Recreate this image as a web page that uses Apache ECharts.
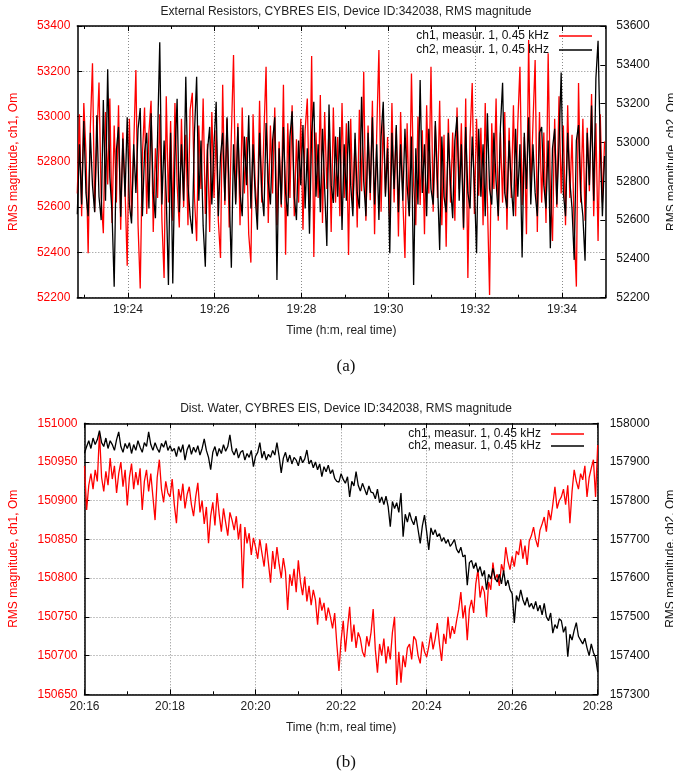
<!DOCTYPE html>
<html>
<head>
<meta charset="utf-8">
<title>CYBRES EIS, RMS magnitude</title>
<script src="https://cdn.jsdelivr.net/npm/echarts@6/dist/echarts.min.js"></script>
<style>
  html, body { margin: 0; padding: 0; background: #fff; }
  #chart { width: 673px; height: 774px; }
</style>
</head>
<body>
<div id="chart"></div>
<script>
// ---- panel (a): External Resistors, one sample every 3 s ----
const startA = '19:22:50';
const endA = '19:35:00';
const stepA = 3;
const xTickLabelsA = ['19:24', '19:26', '19:28', '19:30', '19:32', '19:34'];
const ch1A = [
  52660, 53010, 52560, 53060, 52840, 52396, 52950, 53235, 52580, 52900,
  53150, 52640, 52485, 53020, 52700, 53080, 52530, 52960, 52620, 53050,
  52500, 52930, 52680, 52341, 52990, 52560, 52870, 53206, 52520, 52241,
  52830, 53040, 52570, 52930, 53070, 52490, 52860, 52640, 53010, 52540,
  52287, 53090, 52620, 52980, 52540, 53060, 52700, 52510, 52990, 52600,
  52920, 52520, 53030, 53105, 52640, 52450, 52960, 52680, 53080, 52570,
  52880, 52490, 53020, 52640, 52940, 52540, 52375, 53140, 52610, 52990,
  52510, 52920, 53272, 52620, 52970, 52520, 53040, 52660, 52910, 52480,
  52355, 53010, 52700, 52560, 53070, 52620, 52920, 53220, 52530, 52960,
  52660, 53040, 52520, 52890, 52600, 53140, 52390, 52970, 52640, 53050,
  52560, 52900, 52620, 52990, 52500, 52940, 53080, 52580, 53268, 52380,
  52930, 52640, 53095, 52530, 53020, 52680, 52950, 52490, 53040, 52620,
  52910, 52560, 53060, 52640, 52970, 52389, 52990, 52600, 52900, 52510,
  53030, 52670, 53198, 52540, 52960, 52630, 53070, 52480, 52930, 53294,
  52580, 52990, 52660, 52910, 52520, 53060, 52620, 52950, 52470, 53020,
  52640, 52375, 52970, 52560, 53190, 52700, 52520, 53000, 52610, 52940,
  52480, 53050, 52660, 53220, 52580, 52960, 52640, 53070, 52520, 52920,
  52425, 52990, 52620, 52930, 52540, 53040, 52680, 52970, 52500, 53080,
  52287, 52910, 53148, 52570, 52990, 52650, 52950, 52520, 53060, 52620,
  52212, 52970, 52680, 53080, 52540, 52930, 52620, 53020, 52500, 52950,
  52640, 53050, 52560, 52970, 53220, 52610, 52910, 52480, 53338, 52670,
  52970, 53250, 52490, 53020, 52620, 52930, 52530, 53280, 52680, 52450,
  52990, 52600, 53090, 52660, 52960, 52520, 53050, 52640, 52920, 52500,
  52249, 53148, 52620, 52990, 52540, 52950, 52670, 53100, 52560, 52970,
  52450, 53010, 52620, 52890
];
const ch2A = [
  52630, 52990, 52680, 53110, 52740, 52620, 53050, 52780, 52640, 53140,
  52720, 52600, 53219, 52700, 53377, 52820, 52640, 52257, 52960, 53080,
  52617, 53020, 52720, 53130, 52680, 52583, 52990, 52740, 53070, 53177,
  52620, 52950, 53050, 52660, 53150, 52740, 52610, 53030, 53516, 52680,
  53010, 52720, 52265, 53050, 52273, 52930, 53225, 52640, 52990, 52700,
  53339, 52780, 52620, 52530, 53050, 53339, 52700, 53010, 52570, 52360,
  52960, 53080, 52680, 52990, 53210, 52620, 52930, 53050, 52700, 53130,
  52740, 52355, 52990, 52680, 53080, 52740, 52620, 53030, 52780, 53140,
  52660, 52990, 52720, 52550, 53050, 52750, 52620, 53100, 52800, 52680,
  53010, 53130, 52291, 52970, 52680, 53080, 52740, 52620, 53030, 53160,
  52720, 52600, 53010, 52780, 53090, 52660, 52970, 52530, 53050, 53210,
  52720, 52990, 52640, 53070, 52760, 52466, 53195, 52780, 52688, 53030,
  52720, 53080, 52549, 52990, 52700, 53110, 52780, 52620, 53050, 52740,
  52660, 53236, 52800, 52620, 53050, 52740, 53130, 52680, 52990, 52600,
  53030, 53210, 52720, 52970, 52429, 53050, 52760, 53090, 52640, 52990,
  52700, 53070, 52780, 52620, 53030, 52265, 52970, 52680, 53322, 52740,
  52990, 52620, 53070, 52760, 52680, 53110, 52800, 52446, 53030, 52720,
  52640, 53050, 52780, 52610, 53010, 53132, 52700, 52990, 52560, 53080,
  52740, 52660, 53030, 52780, 52429, 53070, 52720, 52990, 52620, 53150,
  52760, 52680, 53050, 52800, 52620, 53080, 53308, 52740, 52660, 53010,
  52780, 52620, 53070, 52720, 52990, 52407, 53050, 52760, 53130, 52680,
  52990, 52740, 52620, 53050, 53080, 52780, 52660, 53010, 52455, 52970,
  53070, 52680, 52990, 53360, 52740, 52620, 53050, 52800, 52660, 52395,
  53010, 53090, 52740, 52620, 52390, 53050, 52780, 53190, 52700, 53331,
  53524, 52990, 52620, 52930
];

// ---- panel (b): Dist. Water, one sample every 3 s ----
const startB = '20:16:00';
const endB = '20:28:00';
const stepB = 3;
const xTickLabelsB = ['20:16', '20:18', '20:20', '20:22', '20:24', '20:26', '20:28'];
const ch1B = [
  150945, 150888, 150920, 150935, 150915, 150940, 150925, 150988, 150930, 150912,
  150938, 150920, 150955, 150928, 150945, 150910, 150935, 150950, 150918, 150940,
  150894, 150930, 150948, 150915, 150937, 150920, 150942, 150888, 150925, 150940,
  150912, 150935, 150905, 150875, 150930, 150953, 150915, 150898, 150925, 150910,
  150905, 150928, 150895, 150871, 150915, 150900, 150922, 150890, 150908, 150918,
  150895, 150880, 150905, 150923, 150885, 150900, 150870, 150892, 150845, 150880,
  150898, 150868, 150910, 150882, 150860, 150890, 150872, 150855, 150885, 150875,
  150862, 150880, 150850, 150870, 150787, 150866, 150845, 150858, 150830, 150852,
  150840, 150825, 150850, 150832, 150815, 150845, 150820, 150794, 150835, 150812,
  150840, 150818, 150800, 150826, 150808, 150759, 150805, 150790, 150812, 150782,
  150823, 150795, 150778, 150802, 150770, 150790, 150765, 150785, 150772, 150740,
  150775, 150758, 150768, 150745, 150762, 150750, 150735, 150755, 150715, 150680,
  150720, 150745, 150705, 150735, 150763, 150718, 150740, 150710, 150730, 150722,
  150705, 150698, 150725, 150712, 150730, 150760, 150708, 150678, 150715, 150700,
  150722, 150690, 150712, 150695, 150730, 150750, 150662, 150705, 150665, 150700,
  150685, 150710, 150715, 150695, 150725, 150720, 150700, 150690, 150718, 150705,
  150698, 150712, 150730, 150708, 150722, 150742, 150715, 150693, 150728, 150715,
  150750, 150722, 150738, 150728, 150745, 150760, 150782, 150748, 150765, 150720,
  150760, 150772, 150755, 150793, 150811, 150775, 150790, 150782, 150750, 150795,
  150785, 150820, 150798, 150805, 150790, 150818, 150808, 150840, 150822, 150811,
  150828, 150815, 150835, 150830, 150850, 150825, 150842, 150817, 150848, 150855,
  150866, 150850, 150840, 150862, 150870, 150879, 150860, 150888, 150875, 150895,
  150918, 150890, 150900, 150905, 150915, 150895, 150920, 150871, 150912, 150940,
  150925, 150915, 150935, 150927, 150945, 150905, 150930, 150942, 150953, 150905,
  150972
];
const ch2B = [
  157923, 157940, 157955, 157935, 157962, 157945, 157958, 157981, 157950, 157940,
  157962, 157935, 157955, 157945, 157930, 157958, 157978, 157940, 157925, 157948,
  157935, 157950, 157922, 157945, 157930, 157955, 157938, 157925, 157950, 157940,
  157978, 157945, 157930, 157950, 157935, 157925, 157948, 157938, 157955, 157930,
  157942, 157928, 157935, 157914, 157940, 157925, 157945, 157905, 157932, 157945,
  157920, 157938, 157925, 157942, 157918, 157935, 157960, 157930, 157912, 157880,
  157925, 157940, 157915, 157935, 157922, 157945, 157928, 157940, 157970, 157930,
  157918, 157935, 157910, 157925, 157930, 157905, 157922, 157912, 157930, 157888,
  157915, 157925, 157950, 157910, 157928, 157905, 157920, 157912, 157930, 157918,
  157950, 157915, 157872, 157910, 157925, 157900, 157918, 157895, 157912, 157905,
  157890, 157915, 157898, 157908, 157931, 157895, 157905, 157885, 157900, 157880,
  157895, 157862, 157888, 157875, 157892, 157870, 157880, 157858, 157850, 157848,
  157870, 157855, 157845, 157862, 157810, 157850, 157838, 157875, 157840, 157825,
  157845, 157830, 157815, 157838, 157822, 157820, 157805, 157830, 157795, 157810,
  157790, 157812, 157785, 157733, 157798, 157780, 157795, 157770, 157820, 157707,
  157765, 157745, 157770, 157750, 157738, 157760, 157725, 157690, 157735, 157763,
  157720, 157673, 157730, 157712, 157725, 157707, 157715, 157695, 157705, 157690,
  157700, 157682, 157690, 157700, 157675, 157665, 157680, 157655, 157660, 157582,
  157640, 157646, 157625, 157640, 157615, 157630, 157605, 157620, 157570, 157610,
  157598, 157625, 157600, 157590, 157610, 157585, 157620, 157580, 157595, 157570,
  157560, 157484, 157555, 157540, 157570, 157545, 157530, 157550, 157525, 157535,
  157520, 157540, 157515, 157530, 157505, 157535, 157500, 157490, 157510, 157458,
  157480, 157470, 157495, 157490, 157460, 157475, 157397, 157455, 157440, 157465,
  157485, 157450, 157440, 157430, 157445, 157420, 157400, 157430, 157408, 157395,
  157358
];

const nameCh1 = 'ch1, measur. 1, 0.45 kHz';
const nameCh2 = 'ch2, measur. 1, 0.45 kHz';

// clock text "hh:mm[:ss]" <-> seconds of day
function toSec(s) {
  const p = s.split(':').map(Number);
  return p[0] * 3600 + p[1] * 60 + (p[2] || 0);
}
function fmtClock(v) {
  const h = Math.floor(v / 3600);
  const m = Math.round((v - h * 3600) / 60);
  return h + ':' + (m < 10 ? '0' + m : m);
}
function pairs(start, step, values) {
  const t0 = toSec(start);
  return values.map((v, i) => [t0 + i * step, v]);
}
function minuteMarks(start, end) {
  const a = Math.ceil(toSec(start) / 60) * 60, b = toSec(end);
  const out = [];
  for (let t = a; t <= b; t += 60) out.push(t);
  return out;
}

const FONT = 'Liberation Sans, Arial, sans-serif';
const gridLine = { show: true, lineStyle: { color: '#8a8a8a', width: 1, type: [1, 2] } };

function timeAxes(gridIndex, start, end, labels) {
  const major = labels.map(toSec);
  const minor = minuteMarks(start, end);
  const base = { type: 'value', gridIndex, min: toSec(start), max: toSec(end) };
  return [
    Object.assign({}, base, {
      position: 'bottom',
      name: 'Time (h:m, real time)',
      nameLocation: 'middle',
      nameGap: 27,
      nameTextStyle: { fontFamily: FONT, fontSize: 12, color: '#222' },
      axisLine: { show: true, lineStyle: { color: '#000', width: 1.5 } },
      axisTick: { show: true, inside: true, length: 5, customValues: major, lineStyle: { color: '#000' } },
      axisLabel: { show: true, customValues: major, formatter: fmtClock, margin: 6,
                   fontFamily: FONT, fontSize: 12, color: '#222' },
      splitLine: gridLine
    }),
    Object.assign({}, base, {
      position: 'bottom',
      axisLine: { show: false },
      axisTick: { show: true, inside: true, length: 3, customValues: minor, lineStyle: { color: '#000' } },
      axisLabel: { show: false },
      splitLine: { show: false }
    }),
    Object.assign({}, base, {
      position: 'top',
      axisLine: { show: true, lineStyle: { color: '#000', width: 1.5 } },
      axisTick: { show: true, inside: true, length: 5, customValues: major, lineStyle: { color: '#000' } },
      axisLabel: { show: false },
      splitLine: { show: false }
    }),
    Object.assign({}, base, {
      position: 'top',
      axisLine: { show: false },
      axisTick: { show: true, inside: true, length: 3, customValues: minor, lineStyle: { color: '#000' } },
      axisLabel: { show: false },
      splitLine: { show: false }
    })
  ];
}

function valueAxis(gridIndex, pos, min, max, interval, color, name, gap, margin, grid) {
  return {
    type: 'value', gridIndex, position: pos, min, max, interval,
    name, nameLocation: 'middle', nameGap: gap, nameRotate: 90,
    nameTextStyle: { fontFamily: FONT, fontSize: 12, color },
    axisLine: { show: true, lineStyle: { color: '#000', width: 1.5 } },
    axisTick: { show: true, inside: true, length: 5, lineStyle: { color: '#000' } },
    axisLabel: { fontFamily: FONT, fontSize: 12, color, margin, formatter: v => String(v) },
    splitLine: grid ? gridLine : { show: false }
  };
}

const lineSeries = (name, xi, yi, data, color) => ({
  type: 'line', name, xAxisIndex: xi, yAxisIndex: yi, data,
  symbol: 'none', showSymbol: false, sampling: null,
  lineStyle: { color, width: 1.3 }, itemStyle: { color },
  emphasis: { disabled: true }
});

const legendText = { fontFamily: FONT, fontSize: 12, color: '#111', padding: [0, 5, 0, 0] };

const chart = echarts.init(document.getElementById('chart'), null, { renderer: 'canvas' });
chart.setOption({
  animation: false,
  backgroundColor: '#fff',
  title: [
    { text: 'External Resistors, CYBRES EIS, Device ID:342038, RMS magnitude',
      left: 341, top: 1, textAlign: 'center',
      textStyle: { fontFamily: FONT, fontSize: 12, fontWeight: 'normal', color: '#222' } },
    { text: 'Dist. Water, CYBRES EIS, Device ID:342038, RMS magnitude',
      left: 341, top: 398, textAlign: 'center',
      textStyle: { fontFamily: FONT, fontSize: 12, fontWeight: 'normal', color: '#222' } },
    { text: '(a)', left: 341, top: 353, textAlign: 'center',
      textStyle: { fontFamily: 'Liberation Serif, Times New Roman, serif', fontSize: 17, fontWeight: 'normal', color: '#111' } },
    { text: '(b)', left: 341, top: 749, textAlign: 'center',
      textStyle: { fontFamily: 'Liberation Serif, Times New Roman, serif', fontSize: 17, fontWeight: 'normal', color: '#111' } }
  ],
  legend: [
    { orient: 'vertical', right: 76, top: 24, align: 'right', icon: 'rect',
      itemWidth: 33, itemHeight: 1.5, itemGap: 0,
      selectedMode: false, data: [nameCh1, nameCh2],
      textStyle: Object.assign({ lineHeight: 14 }, legendText) },
    { orient: 'vertical', right: 84, top: 423, align: 'right', icon: 'rect',
      itemWidth: 33, itemHeight: 1.5, itemGap: 0,
      selectedMode: false, data: [nameCh1, nameCh2],
      textStyle: Object.assign({ lineHeight: 12 }, legendText) }
  ],
  grid: [
    { left: 77.3, top: 26, width: 528, height: 271.7, show: false,
      containLabel: false, outerBoundsMode: 'none' },
    { left: 84.5, top: 423.3, width: 513.2, height: 271, show: false,
      containLabel: false, outerBoundsMode: 'none' }
  ],
  xAxis: [].concat(
    timeAxes(0, startA, endA, xTickLabelsA),
    timeAxes(1, startB, endB, xTickLabelsB)
  ),
  yAxis: [
    valueAxis(0, 'left', 52200, 53400, 200, '#ff0000', 'RMS magnitude, ch1, Om', 58, 7, true),
    valueAxis(0, 'right', 52200, 53600, 200, '#111', 'RMS magnitude, ch2, Om', 60, 11, false),
    valueAxis(1, 'left', 150650, 151000, 50, '#ff0000', 'RMS magnitude, ch1, Om', 65, 7, true),
    valueAxis(1, 'right', 157300, 158000, 100, '#111', 'RMS magnitude, ch2, Om', 67, 12, false)
  ],
  series: [
    lineSeries(nameCh1, 0, 0, pairs(startA, stepA, ch1A), '#ff0000'),
    lineSeries(nameCh2, 0, 1, pairs(startA, stepA, ch2A), '#000000'),
    lineSeries(nameCh1, 4, 2, pairs(startB, stepB, ch1B), '#ff0000'),
    lineSeries(nameCh2, 4, 3, pairs(startB, stepB, ch2B), '#000000')
  ]
});
</script>
</body>
</html>
